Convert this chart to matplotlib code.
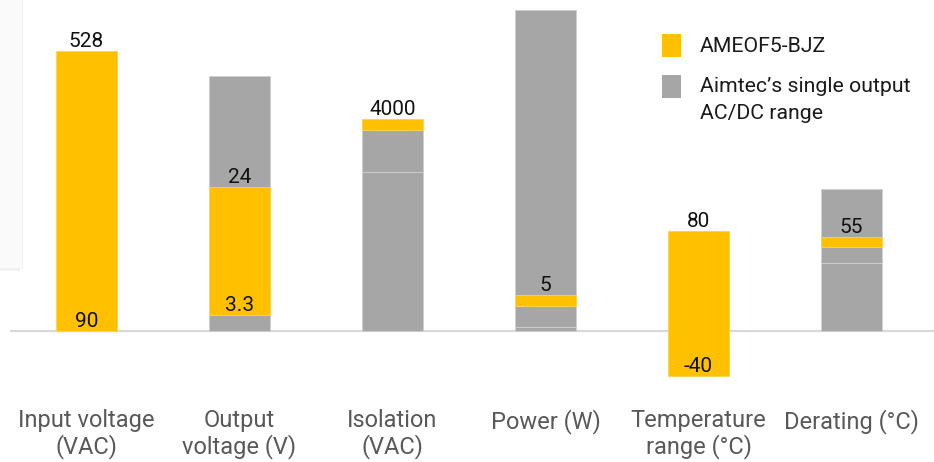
import matplotlib
matplotlib.use("Agg")
import matplotlib.pyplot as plt
from matplotlib.patches import Rectangle

plt.rcParams['font.family'] = ['Roboto', 'DejaVu Sans']

# Categories (each on its own relative scale; heights, 0-100 relative units)
categories = ["Input voltage\n(VAC)", "Output\nvoltage (V)", "Isolation\n(VAC)",
              "Power (W)", "Temperature\nrange (°C)", "Derating (°C)"]

# Stacked segments: category index, bottom, top, series (0 = AMEOF5-BJZ, 1 = Aimtec range)
seg_cat    = [0,     1,    1,    1,    2,    2,    2,    3,   3,   3,    3,     4,     5,    5,    5,    5]
seg_bottom = [0.0,   0.0,  5.0,  44.9, 0.0,  49.5, 62.6, 0.0, 1.2, 7.8,  11.2, -14.0,  0.0,  21.2, 26.2, 29.3]
seg_top    = [87.2,  5.0,  44.9, 79.4, 49.5, 62.6, 66.0, 1.2, 7.8, 11.2, 100.0, 31.2, 21.2, 26.2, 29.3, 44.2]
seg_series = [0,     1,    0,    1,    1,    1,    0,    1,   1,   0,    1,     0,     1,    1,    0,    1]

# Value labels: category, text, anchor height (relative units)
lab_cat  = [0,     0,    1,    1,     2,      3,    4,     4,      5]
lab_text = ["528", "90", "24", "3.3", "4000", "5",  "80",  "-40",  "55"]
lab_y    = [87.2,  0.0,  44.9, 5.0,   66.0,   11.2, 31.2,  -14.0,  29.3]

series_names = ["AMEOF5-BJZ", "Aimtec’s single output\nAC/DC range"]
series_colors = ["#FFC000", "#A6A6A6"]

W, H = 934, 462
fig = plt.figure(figsize=(W / 100, H / 100), dpi=100)
ax = fig.add_axes([0, 0, 1, 1])
px_per_unit = 3.21
base_px = 331
spacing_px = 153
first_px = 86.5
ax.set_xlim(-first_px / spacing_px, (W - first_px) / spacing_px)
ax.set_ylim(-(H - base_px) / px_per_unit, base_px / px_per_unit)
ax.axis('off')

# faint panel on the left
shadow = Rectangle((-0.60, 103.1 - 268 / px_per_unit - 1.0), (22 + 3) / spacing_px, 268 / px_per_unit + 5,
                   transform=ax.transData, facecolor="#ececec", edgecolor="none", zorder=0, alpha=0.7)
panel = Rectangle((-0.60, 103.1 - 268 / px_per_unit), (21.5 / spacing_px) + 0.035, 268 / px_per_unit + 5,
                  transform=ax.transData, facecolor="#fafafa", edgecolor="#f0f0f0", lw=0.6, zorder=1)
ax.add_patch(shadow)
ax.add_patch(panel)

# baseline
ax.plot([(10 - first_px) / spacing_px, (W - first_px) / spacing_px], [0, 0],
        color="#d9d9d9", lw=1.6, zorder=1, solid_capstyle='butt')

bar_w = 61 / spacing_px
for c, b, t, s in zip(seg_cat, seg_bottom, seg_top, seg_series):
    ax.bar(c, t - b, bottom=b, width=bar_w, color=series_colors[s],
           edgecolor="#cfcfcf" if s == 1 else "#FFD24D", linewidth=0.6, zorder=3)

for c, txt, y in zip(lab_cat, lab_text, lab_y):
    ax.annotate(txt, (c, y), xytext=(0, 4), textcoords='offset pixels',
                ha='center', va='baseline', fontsize=15, color="#111111", zorder=5)

for i, name in enumerate(categories):
    ax.text(i, -(409 - base_px) / px_per_unit, name, ha='center', va='top',
            fontsize=17, color="#595959", linespacing=1.1)

# legend
leg_x0 = (662 - first_px) / spacing_px
sq_w = 19 / spacing_px
ax.add_patch(Rectangle((leg_x0, (base_px - 57) / px_per_unit), sq_w, 23 / px_per_unit,
                       facecolor=series_colors[0], edgecolor='none', zorder=4))
ax.add_patch(Rectangle((leg_x0, (base_px - 98) / px_per_unit), sq_w, 23 / px_per_unit,
                       facecolor=series_colors[1], edgecolor='none', zorder=4))
tx = (700 - first_px) / spacing_px
ax.text(tx, (base_px - 46) / px_per_unit, series_names[0], ha='left', va='center',
        fontsize=15.3, color="#1a1a1a")
ax.text(tx, (base_px - 100) / px_per_unit, series_names[1], ha='left', va='center',
        fontsize=15.3, color="#1a1a1a", linespacing=1.5)

fig.savefig("out.png", dpi=100)
